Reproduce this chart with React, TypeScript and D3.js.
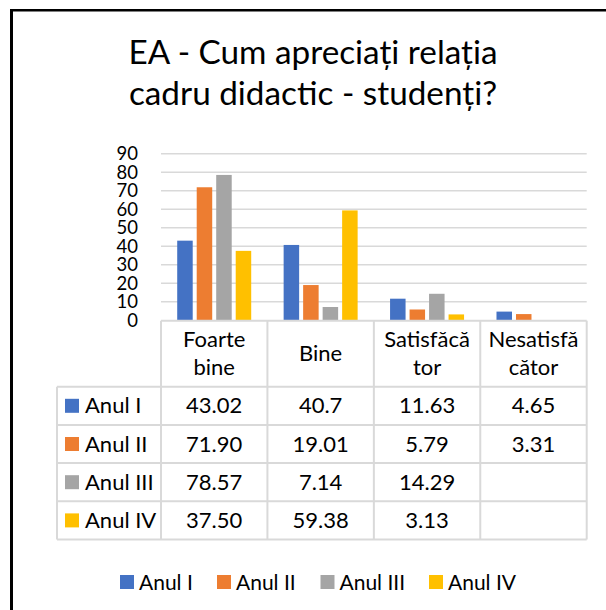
import React from "react";
import * as d3 from "d3";

const categories: string[][] = [["Foarte", "bine"], ["Bine"], ["Satisfăcă", "tor"], ["Nesatisfă", "cător"]];
const seriesNames = ["Anul I", "Anul II", "Anul III", "Anul IV"];
const seriesColors = ["#4472C4", "#ED7D31", "#A5A5A5", "#FFC000"];
const anulI = [43.02, 40.7, 11.63, 4.65];
const anulII = [71.9, 19.01, 5.79, 3.31];
const anulIII: (number | null)[] = [78.57, 7.14, 14.29, null];
const anulIV: (number | null)[] = [37.5, 59.38, 3.13, null];
const anulILabels = ["43.02", "40.7", "11.63", "4.65"];
const anulIILabels = ["71.90", "19.01", "5.79", "3.31"];
const anulIIILabels = ["78.57", "7.14", "14.29", ""];
const anulIVLabels = ["37.50", "59.38", "3.13", ""];
const yTicks = [0, 10, 20, 30, 40, 50, 60, 70, 80, 90];
const titleLines = ["EA - Cum apreciați relația", "cadru didactic - studenți?"];

const seriesValues = [anulI, anulII, anulIII, anulIV];
const seriesLabels = [anulILabels, anulIILabels, anulIIILabels, anulIVLabels];

export default function App() {
  const W = 606, H = 610;
  const font = "Lato, 'Open Sans', sans-serif";
  const plotLeft = 161, plotRight = 586.7;
  const y = d3.scaleLinear().domain([0, 90]).range([320.2, 153.8]);
  const x = d3.scaleBand<number>().domain(d3.range(categories.length)).range([plotLeft, plotRight]).padding(0);
  const groupW = 78;
  const inner = d3.scaleBand<number>().domain(d3.range(seriesNames.length)).range([0, groupW]).padding(0);
  const tableLeft = 57;
  const headerTop = 320.7, headerBottom = 386.7, rowH = 38.2;
  const gridColor = "#D9D9D9";

  return (
    <svg width={W} height={H} style={{ position: "absolute", left: 0, top: 0, background: "#fff" }}>
      <rect x={0} y={0} width={W} height={H} fill="#fff" />
      {/* frame */}
      <line x1={11.5} y1={9} x2={11.5} y2={H} stroke="#000" strokeWidth={3} />
      <line x1={10} y1={10.2} x2={W} y2={10.2} stroke="#000" strokeWidth={2.4} />
      {/* title */}
      {titleLines.map((t, i) => (
        <text key={i} x={313} y={64} dy={i * 40.5} textAnchor="middle" fontFamily={font} fontSize={33.3} fill="#000">{t}</text>
      ))}
      {/* gridlines */}
      {yTicks.filter(t => t > 0).map(t => (
        <line key={t} x1={plotLeft} x2={plotRight} y1={y(t)} y2={y(t)} stroke={gridColor} strokeWidth={1.5} />
      ))}
      {/* y labels */}
      {yTicks.map(t => (
        <text key={t} x={138} y={y(t)} dy="0.36em" textAnchor="end" fontFamily={font} fontSize={18.5} fill="#000">{t}</text>
      ))}
      {/* bars */}
      {seriesValues.map((vals, s) =>
        vals.map((v, c) => {
          if (v === null) return null;
          const cx = (x(c) as number) + x.bandwidth() / 2 - groupW / 2 + (inner(s) as number);
          return (
            <rect key={`${s}-${c}`} x={cx + 2} width={inner.bandwidth() - 4} y={y(v)} height={y(0) - y(v)} fill={seriesColors[s]} />
          );
        })
      )}
      {/* table lines */}
      <line x1={plotLeft} x2={plotRight} y1={headerTop} y2={headerTop} stroke={gridColor} strokeWidth={2} />
      {d3.range(5).map(r => (
        <line key={r} x1={tableLeft} x2={plotRight} y1={headerBottom + r * rowH} y2={headerBottom + r * rowH} stroke={gridColor} strokeWidth={2} />
      ))}
      <line x1={tableLeft} x2={tableLeft} y1={headerBottom} y2={headerBottom + 4 * rowH} stroke={gridColor} strokeWidth={2} />
      {d3.range(5).map(c => {
        const xx = c < 4 ? (x(c) as number) : plotRight;
        return <line key={c} x1={xx} x2={xx} y1={headerTop} y2={headerBottom + 4 * rowH} stroke={gridColor} strokeWidth={2} />;
      })}
      {/* header labels */}
      {categories.map((lines, c) => {
        const cx = (x(c) as number) + x.bandwidth() / 2;
        const base = lines.length === 1 ? 361 : 346.5;
        return lines.map((l, i) => (
          <text key={`${c}-${i}`} x={cx} y={base + i * 28} textAnchor="middle" fontFamily={font} fontSize={22} fill="#000">{l}</text>
        ));
      })}
      {/* rows */}
      {seriesNames.map((name, s) => {
        const rc = headerBottom + s * rowH + rowH / 2;
        return (
          <g key={name}>
            <rect x={65} y={rc - 7} width={14} height={14} fill={seriesColors[s]} />
            <text x={85} y={rc + 7.5} fontFamily={font} fontSize={22} fill="#000">{name}</text>
            {seriesLabels[s].map((lab, c) => (
              <text key={c} x={(x(c) as number) + x.bandwidth() / 2} y={rc + 7.5} textAnchor="middle" fontFamily={font} fontSize={22} fill="#000">{lab}</text>
            ))}
          </g>
        );
      })}
      {/* legend */}
      {seriesNames.map((name, s) => {
        const lx = [120, 217, 320.5, 429][s];
        return (
          <g key={name}>
            <rect x={lx} y={575} width={14} height={14} fill={seriesColors[s]} />
            <text x={lx + 19} y={590} fontFamily={font} fontSize={21} fill="#000">{name}</text>
          </g>
        );
      })}
    </svg>
  );
}
